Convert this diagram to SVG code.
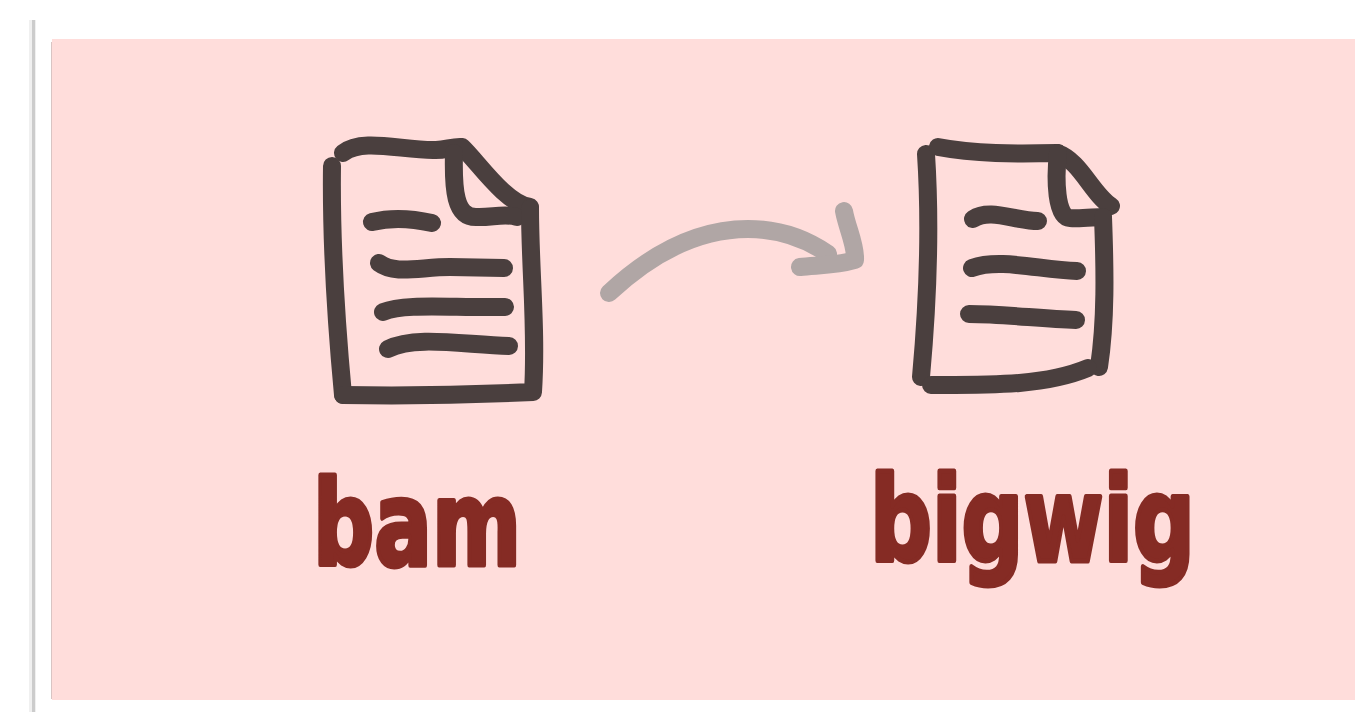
<svg xmlns="http://www.w3.org/2000/svg" width="1355" height="712" viewBox="0 0 1355 712">
<style>
.ink{fill:none;stroke:#4a3f3e;stroke-width:18;stroke-linecap:round;stroke-linejoin:round}
.arrow{fill:none;stroke:#b0a6a5;stroke-width:18;stroke-linecap:round;stroke-linejoin:round}
.label{font-family:"DejaVu Sans",sans-serif;font-weight:700;font-size:118px;fill:#852b24;stroke:#852b24;stroke-width:5;stroke-linejoin:round}
</style>
<rect width="1355" height="712" fill="#fff"/>
<rect x="29" y="20" width="7" height="692" fill="#f0f0f0"/>
<rect x="32" y="20" width="3" height="692" fill="#cccccc"/>
<rect x="51" y="42" width="2" height="657" fill="#d9c4c3"/>
<rect x="52" y="39" width="1303" height="661" fill="#ffdddb"/>
<g id="bam">
<path class="ink" d="M332 166C331 240 336 320 343 395"/>
<path class="ink" d="M343 153C362 138 400 150 433 150C445 151 452 146 462 147C478 162 505 203 530 207"/>
<path class="ink" d="M454 153C453 190 455 217 476 217C490 218 505 213 517 217"/>
<path class="ink" d="M343 395C400 396 470 395 533 392C537 330 530 270 530 208"/>
<path class="ink" d="M372 222C388 218 410 218 432 223"/>
<path class="ink" d="M379 263C395 275 420 267 450 267L504 268"/>
<path class="ink" d="M383 312C405 303 450 308 505 307"/>
<path class="ink" d="M388 349C415 335 465 345 509 346"/>
<text class="label" x="313" y="565" textLength="208" lengthAdjust="spacingAndGlyphs">bam</text>
</g>
<g id="connectors">
<path class="arrow" d="M609 293C655 250 700 229 748 229C780 229 805 238 828 254"/>
<path class="arrow" d="M844 211C847 228 856 245 855 260C835 266 815 265 800 267"/>
</g>
<g id="bigwig">
<path class="ink" d="M926 154C931 230 928 300 921 377"/>
<path class="ink" d="M938 147C975 154 1015 154 1057 153C1080 160 1092 194 1111 206"/>
<path class="ink" d="M1058 153C1055 180 1056 217 1070 218C1080 219 1095 217 1103 217"/>
<path class="ink" d="M1103 217C1105 270 1106 320 1099 367"/>
<path class="ink" d="M931 385C990 385 1045 386 1088 368"/>
<path class="ink" d="M973 219C990 208 1015 221 1038 221"/>
<path class="ink" d="M972 268C1000 258 1040 270 1077 271"/>
<path class="ink" d="M969 314C1005 314 1040 319 1076 320"/>
<text class="label" x="870" y="561" textLength="325" lengthAdjust="spacingAndGlyphs">bigwig</text>
</g>
</svg>
